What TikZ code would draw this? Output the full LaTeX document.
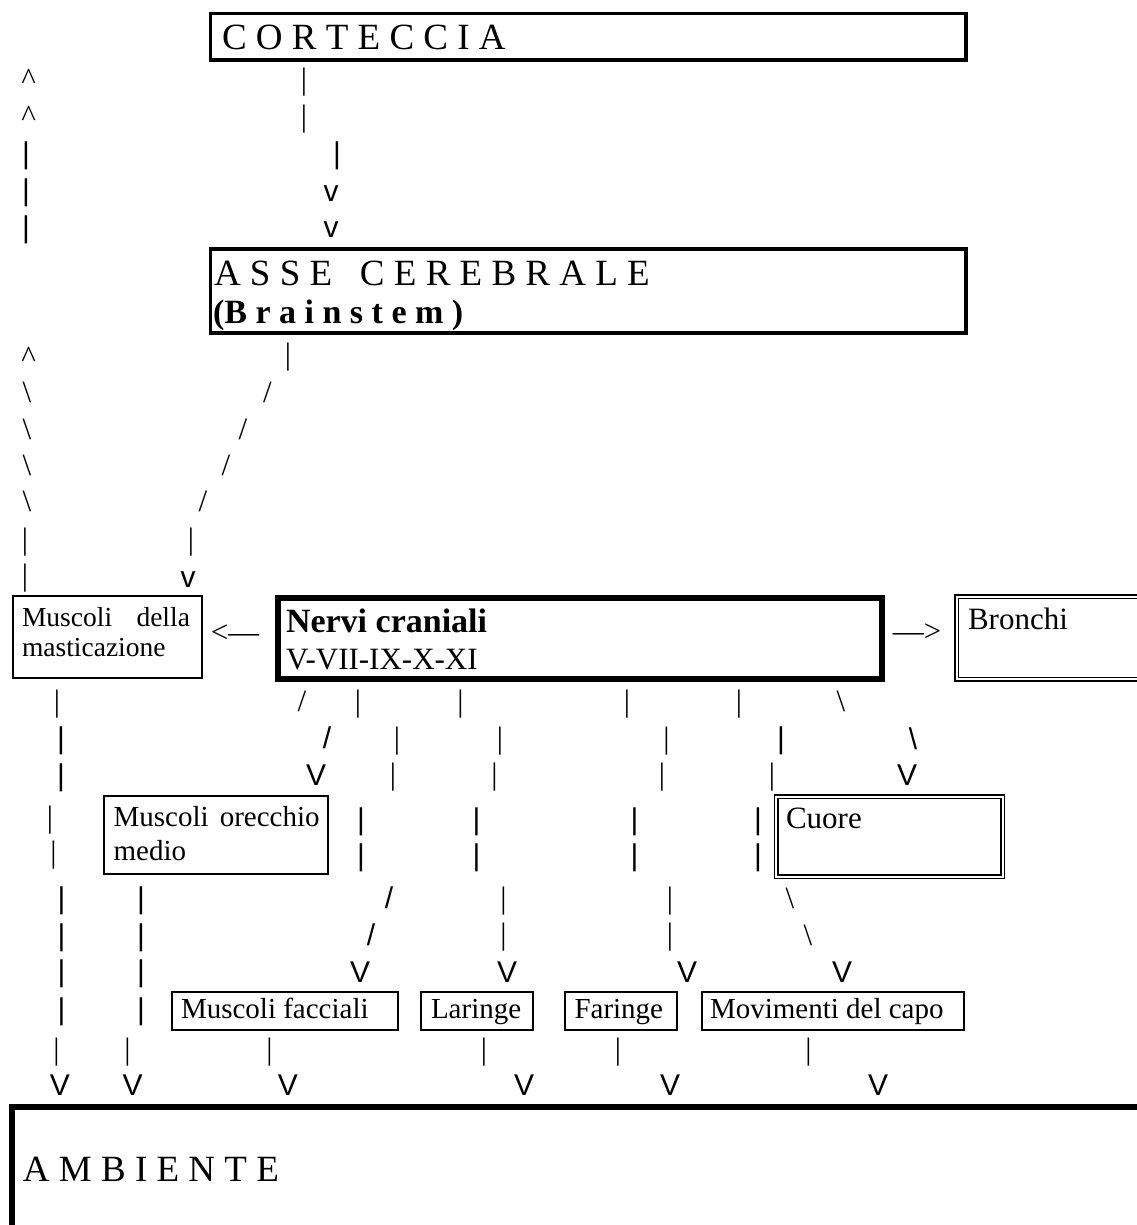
\documentclass[tikz,border=0pt]{standalone}
\usepackage{fontspec}
\setmainfont{Liberation Serif}
\newfontfamily\arialf{Liberation Sans}
\newcounter{gl}
\begin{document}
\begin{tikzpicture}[x=1pt,y=-1pt,
  every node/.style={inner sep=0pt, outer sep=0pt},
  boxn/.style={draw, anchor=north west},
  dbox/.style={draw, double, double distance=2pt, line width=1.6pt, anchor=north west},
  gt/.style={font=\fontsize{31}{31}\selectfont},
  ga/.style={font=\arialf\fontsize{30}{30}\selectfont},
  gc/.style={font=\fontsize{31}{31}\selectfont, anchor=base},
  big/.style={font=\fontsize{37}{40}\selectfont, anchor=base west},
  lbl/.style={font=\fontsize{29}{33}\selectfont, anchor=base west},
  mid/.style={font=\fontsize{31}{35}\selectfont, anchor=base west}
]
\newcommand\gT[3]{\stepcounter{gl}\node[gt] (g\arabic{gl}) at (#1,#2) {#3};}
\newcommand\gA[3]{\stepcounter{gl}\node[ga] (g\arabic{gl}) at (#1,#2) {#3};}
\newcommand\gC[2]{\stepcounter{gl}\node[gc] (g\arabic{gl}) at (#1,#2) {\textasciicircum};}
\useasboundingbox (0,0) rectangle (1136,1225);
\fill[white] (0,0) rectangle (1136,1225);

% boxes
\node[boxn, line width=3.5pt, minimum width=755.5pt, minimum height=46.5pt] (cort) at (210.5,13.5) {};
\node[boxn, line width=3.5pt, minimum width=755.5pt, minimum height=84pt] (asse) at (210.5,249) {};
\node[boxn, line width=2pt, minimum width=189pt, minimum height=82pt] (mast) at (12.5,596) {};
\node[boxn, line width=6pt, minimum width=604pt, minimum height=81pt] (nervi) at (277.5,598) {};
\node[dbox, minimum width=260pt, minimum height=82.6pt] (bron) at (956.7,596.7) {};
\node[boxn, line width=2pt, minimum width=224.2pt, minimum height=78pt] (orec) at (103.8,796) {};
\node[dbox, line width=1.5pt, minimum width=226.2pt, minimum height=80pt] (cuore) at (776.3,796.5) {};
\node[boxn, line width=2pt, minimum width=225.5pt, minimum height=38.2pt] (facc) at (172,991.5) {};
\node[boxn, line width=2pt, minimum width=112.5pt, minimum height=38.2pt] (lar) at (420.5,991.5) {};
\node[boxn, line width=2pt, minimum width=112.3pt, minimum height=38.2pt] (far) at (564.7,991.5) {};
\node[boxn, line width=2pt, minimum width=262.4pt, minimum height=38.2pt] (mov) at (701.6,991.5) {};
\node[boxn, line width=6pt, minimum width=1200pt, minimum height=200pt] (amb) at (11.7,1107) {};

% texts
\node[big] (tcort) at (222,49.3) {C O R T E C C I A};
\node[big] (tasse) at (214,285) {A S S E \ \ C E R E B R A L E};
\node[font=\bfseries\fontsize{34}{38}\selectfont, anchor=base west] (tbrain) at (213,323) {(B r a i n s t e m )};
\node[font=\fontsize{27.5}{31}\selectfont, anchor=base west] (tmast1) at (22,626.5) {\hbox to 168pt{Muscoli\hfill della}};
\node[font=\fontsize{27.5}{31}\selectfont, anchor=base west] (tmast2) at (22,656.5) {masticazione};
\node[font=\bfseries\fontsize{34}{38}\selectfont, anchor=base west] (tnervi) at (286,632.5) {Nervi craniali};
\node[mid] (tnum) at (286,669.5) {V-VII-IX-X-XI};
\node[font=\fontsize{31}{31}\selectfont] (larr) at (235,634) {<\textemdash};
\node[font=\fontsize{31}{31}\selectfont] (rarr) at (917,633) {\textemdash>};
\node[mid] (tbron) at (968,629) {Bronchi};
\node[lbl] (torec1) at (113.6,826.7) {\hbox to 206pt{Muscoli\hfill orecchio}};
\node[lbl] (torec2) at (113.6,860) {medio};
\node[mid] (tcuore) at (786,828) {Cuore};
\node[lbl] (tfacc) at (181,1018) {Muscoli facciali};
\node[lbl] (tlar) at (431,1018) {Laringe};
\node[lbl] (tfar) at (574.5,1018) {Faringe};
\node[lbl] (tmov) at (710,1018) {Movimenti del capo};
\node[big] (tamb) at (23,1181.7) {A M B I E N T E};

% ascii connectors, top
\gC{28.7}{90}
\gC{28.7}{127}
\gT{304}{82.5}{|}
\gT{304}{119}{|}
\gA{26}{156}{|} \gA{337}{156}{|}
\gA{26}{193}{|} \gA{331}{193.5}{v}
\gA{26}{230}{|} \gA{331}{230}{v}
% middle
\gC{28.7}{367} \gT{288}{357.5}{|}
\gT{27}{392.5}{\textbackslash} \gT{267.5}{392}{/}
\gT{27}{429.5}{\textbackslash} \gT{243}{429}{/}
\gT{27}{465.5}{\textbackslash} \gT{226}{465}{/}
\gT{27}{501.5}{\textbackslash} \gT{203}{501.5}{/}
\gT{25}{542}{|} \gT{191}{542}{|}
\gT{25}{578}{|} \gA{188}{579.5}{v}
% row 1
\gT{57}{704}{|} \gT{302}{701}{/} \gT{358}{704}{|} \gT{460.5}{704}{|} \gT{627}{704}{|} \gT{739}{704}{|} \gT{841}{701}{\textbackslash}
% row 2
\gA{61}{741}{|} \gA{327}{737.5}{/} \gT{397}{741}{|} \gT{500}{741}{|} \gT{666.5}{741}{|} \gA{781}{741}{|} \gA{913}{739}{\textbackslash}
% row 3
\gA{61}{777.5}{|} \gA{316}{775}{V} \gT{393}{777.5}{|} \gT{494.5}{777.5}{|} \gT{662}{777.5}{|} \gT{772}{777.5}{|} \gA{907}{775}{V}
% row 4
\gT{50}{820}{|} \gA{361}{821.5}{|} \gA{476.6}{821.5}{|} \gA{634.6}{821.5}{|} \gA{758}{821.5}{|}
% row 5
\gT{53.5}{855}{|} \gA{361}{857.5}{|} \gA{476.6}{857.5}{|} \gA{634.6}{857.5}{|} \gA{758}{857.5}{|}
% row 6
\gA{61.6}{901}{|} \gA{141}{901}{|} \gA{389}{897.5}{/} \gT{503.5}{901}{|} \gT{670}{901}{|} \gT{790}{898.5}{\textbackslash}
% row 7
\gA{61.6}{937.5}{|} \gA{141}{937.5}{|} \gA{371}{934.5}{/} \gT{503.5}{937.5}{|} \gT{670}{937.5}{|} \gT{808}{935}{\textbackslash}
% row 8
\gA{61.6}{974}{|} \gA{141}{974}{|} \gA{360}{972}{V} \gA{507}{972}{V} \gA{687}{972}{V} \gA{842}{972}{V}
% row 9
\gA{61.6}{1012}{|} \gA{141}{1012}{|}
% row 10
\gT{56.5}{1052}{|} \gT{127.5}{1052}{|} \gT{269.5}{1052}{|} \gT{484}{1052}{|} \gT{618}{1052}{|} \gT{808.5}{1052}{|}
% row 11
\gA{60}{1085}{V} \gA{132.6}{1085}{V} \gA{288}{1085}{V} \gA{524}{1085}{V} \gA{670}{1085}{V} \gA{878}{1085}{V}
\end{tikzpicture}
\end{document}
